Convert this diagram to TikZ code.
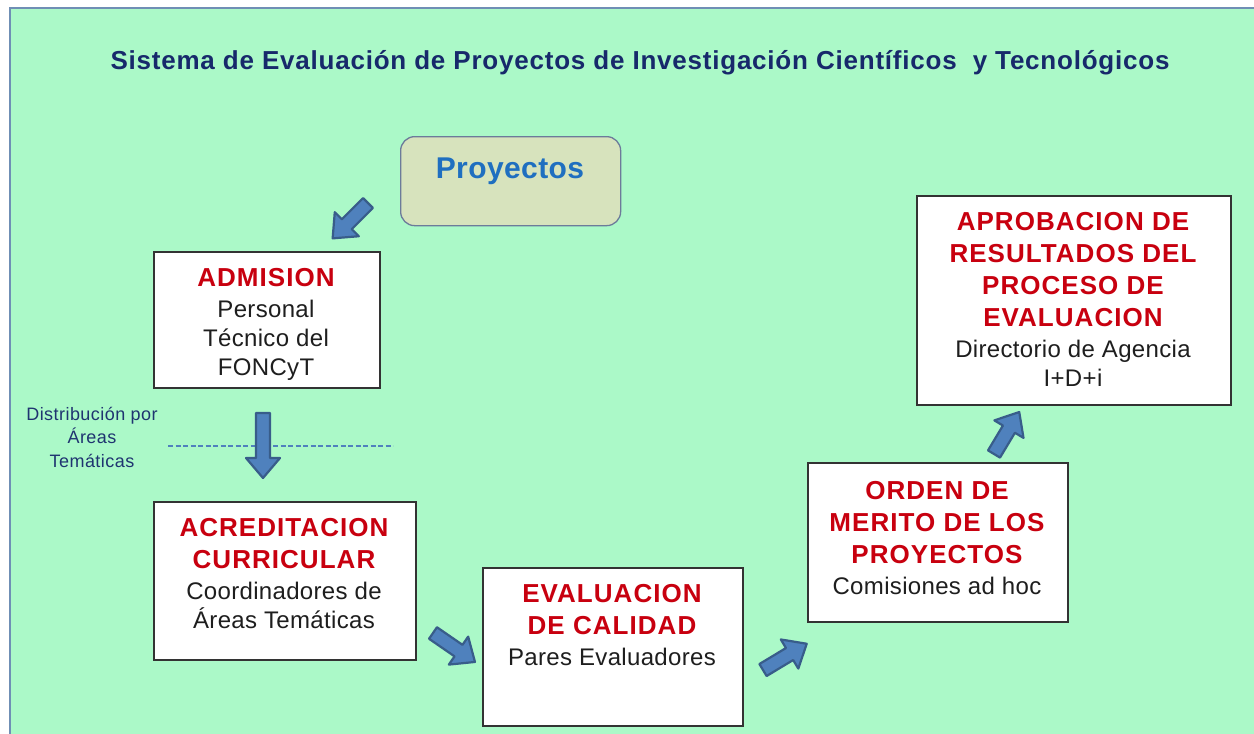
\documentclass[tikz,border=0pt]{standalone}
\usepackage{fontspec}
\setmainfont{Liberation Sans}[LetterSpace=1.4]
\newfontfamily\titlefont{Liberation Sans}[LetterSpace=3]
\newfontfamily\redfont{Liberation Sans}[LetterSpace=4]
\newfontfamily\distfont{Liberation Sans}[LetterSpace=2.5]
\definecolor{bggreen}{HTML}{ABF9C8}
\definecolor{frame}{HTML}{6F8FB5}
\definecolor{titlec}{HTML}{17296B}
\definecolor{redc}{HTML}{C8000F}
\definecolor{txtc}{HTML}{1E1E1E}
\definecolor{proyfill}{HTML}{D7E3BD}
\definecolor{proyline}{HTML}{6C7B9A}
\definecolor{proytxt}{HTML}{1F6FC0}
\definecolor{arrfill}{HTML}{4F81BD}
\definecolor{arrline}{HTML}{385D8A}
\definecolor{distc}{HTML}{1F3470}
\newcommand\rd[1]{{\redfont\fontsize{26}{32}\selectfont\bfseries\color{redc}#1}}
\newcommand\blockarrow[4]{%
  \begin{scope}[shift={(#1,#2)},rotate=#3]
    \draw[arrshape] (0,-7) -- ({#4-20},-7) -- ({#4-20},-17) -- (#4,0) -- ({#4-20},17) -- ({#4-20},7) -- (0,7) -- cycle;
  \end{scope}}
\begin{document}
\begin{tikzpicture}[x=1pt,y=-1pt,
  box/.style={draw=black!80, line width=1.8pt, fill=white, anchor=north west, inner sep=0pt},
  txt/.style={anchor=north, inner sep=0pt, align=center, text=txtc, font=\fontsize{24}{29}\selectfont},
  arrshape/.style={fill=arrfill, draw=arrline, line width=2.2pt, line join=round}]
\useasboundingbox (0,0) rectangle (1254,734);
\fill[white] (0,0) rectangle (1254,734);
\draw[frame, line width=1.5pt, fill=bggreen] (10,8) rectangle (1258,740);

\node[anchor=base, inner sep=0pt, text=titlec, font=\titlefont\fontsize{26}{30}\selectfont\bfseries] (title) at (640,69)
  {Sistema de Evaluación de Proyectos de Investigación Científicos \ y Tecnológicos};

% Proyectos
\node[draw=proyline, line width=1.3pt, fill=proyfill, rounded corners=14pt, anchor=north west,
  minimum width=220pt, minimum height=89pt, inner sep=0pt] (proy) at (400,136) {};
\node[anchor=base, inner sep=0pt, text=proytxt, font=\fontsize{30}{34}\selectfont\bfseries] (proyt) at (510,178.5) {Proyectos};

% boxes
\node[box, minimum width=226pt, minimum height=136pt] (adm) at (153,251) {};
\node[txt] (admt) at (266,268) {\rd{ADMISION}\\[2.5pt] Personal\\ Técnico del\\ FONCyT};

\node[box, minimum width=262pt, minimum height=158pt] (acr) at (153,501) {};
\node[txt] (acrt) at (284,518) {\rd{ACREDITACION}\\[3pt] \rd{CURRICULAR}\\[2.5pt] Coordinadores de\\ Áreas Temáticas};

\node[box, minimum width=260pt, minimum height=158pt] (eva) at (482,567) {};
\node[txt] (evat) at (612,584) {\rd{EVALUACION}\\[3pt] \rd{DE CALIDAD}\\[2.5pt] Pares Evaluadores};

\node[box, minimum width=260pt, minimum height=159pt] (ord) at (807,462) {};
\node[txt] (ordt) at (937,481) {\rd{ORDEN DE}\\[3pt] \rd{MERITO DE LOS}\\[3pt] \rd{PROYECTOS}\\[2.5pt] Comisiones ad hoc};

\node[box, minimum width=314pt, minimum height=209pt] (apr) at (916,195) {};
\node[txt] (aprt) at (1073,212) {\rd{APROBACION DE}\\[3pt] \rd{RESULTADOS DEL}\\[3pt] \rd{PROCESO DE}\\[3pt] \rd{EVALUACION}\\[2.5pt] Directorio de Agencia\\ I+D+i};

% distribution label and dashed line
\node[anchor=center, inner sep=0pt, align=center, text=distc, font=\distfont\fontsize{18}{23.5}\selectfont] (dist) at (92,437)
  {Distribución por\\ Áreas\\ Temáticas};
\coordinate (dl1) at (168,446);
\coordinate (dl2) at (393,446);
\draw[arrfill, line width=2pt, dash pattern=on 5pt off 2.5pt] (dl1) -- (dl2);

% block arrows
\blockarrow{368}{203}{225}{50}
\blockarrow{263}{413}{270}{65}
\blockarrow{433}{633}{-34.6}{51}
\blockarrow{763}{670}{31}{51}
\blockarrow{994}{454}{59}{49}
\end{tikzpicture}
\end{document}
